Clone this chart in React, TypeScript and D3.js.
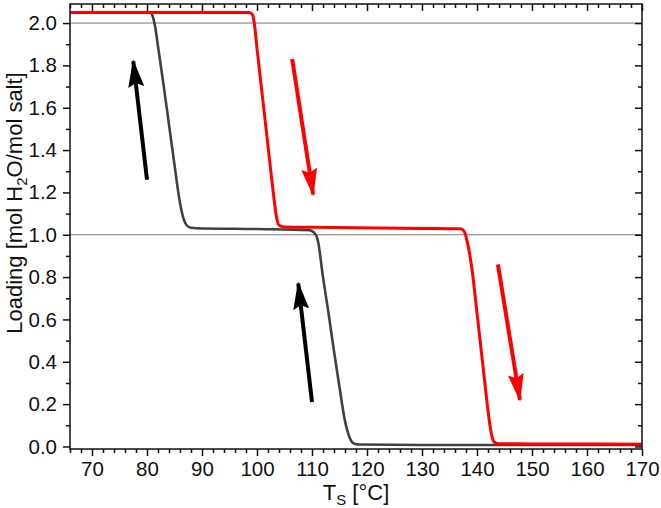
import { FC, useEffect, useRef } from 'react';
import * as d3 from 'd3';

// Hydration branch (grey): loading vs. salt temperature
const hydTemp = [66, 80.5, 81, 81.5, 82, 83, 84, 85, 86, 86.6, 87.2, 88, 89, 100, 109.5, 110.3, 111, 112, 113, 114, 115, 116, 116.8, 117.5, 118.5, 130, 150, 170];
const hydLoad = [2.05, 2.05, 2.035, 1.98, 1.89, 1.71, 1.52, 1.33, 1.15, 1.08, 1.045, 1.033, 1.031, 1.027, 1.022, 1.012, 0.98, 0.8, 0.63, 0.45, 0.28, 0.12, 0.045, 0.016, 0.009, 0.007, 0.007, 0.007];

// Dehydration branch (red)
const dehTemp = [66, 98.6, 99.2, 99.6, 100, 101, 102, 103, 103.5, 104, 105, 110, 130, 137, 137.7, 138.2, 139.1, 140, 141, 142, 142.5, 143, 143.8, 150, 170];
const dehLoad = [2.05, 2.05, 2.04, 1.98, 1.88, 1.65, 1.42, 1.19, 1.09, 1.045, 1.037, 1.035, 1.03, 1.028, 1.015, 0.97, 0.835, 0.63, 0.4, 0.17, 0.075, 0.025, 0.013, 0.012, 0.011];

// Direction arrows [tail T, tail loading, tip T, tip loading]
const blackArrows = [
  [80.0, 1.26, 77.5, 1.82],
  [110.0, 0.21, 107.5, 0.77],
];
const redArrows = [
  [106.4, 1.83, 110.2, 1.19],
  [143.8, 0.86, 147.8, 0.22],
];

const xMajor = [70, 80, 90, 100, 110, 120, 130, 140, 150, 160, 170];
const yMajor = [0.0, 0.2, 0.4, 0.6, 0.8, 1.0, 1.2, 1.4, 1.6, 1.8, 2.0];
const gridLevels = [1.0, 2.0];

const App: FC = () => {
  const chartRef = useRef<SVGSVGElement | null>(null);

  useEffect(() => {
    const width = 661;
    const height = 508;
    const left = 70;
    const right = 642;
    const top = 4;
    const bottom = 449;
    const font = '"Liberation Sans", Arial, sans-serif';

    const svg = d3.select(chartRef.current);
    svg.selectAll('*').remove();
    svg.attr('width', width).attr('height', height);

    const x = d3.scaleLinear().domain([66, 170]).range([left, right]);
    const y = d3.scaleLinear().domain([-0.012, 2.09]).range([bottom, top]);

    const xMinor = d3.range(66, 171, 2).filter((v) => v % 10 !== 0);
    const yMinor = d3.range(1, 21, 2).map((v) => v / 10);

    // Reference lines
    svg
      .append('g')
      .selectAll('line')
      .data(gridLevels)
      .enter()
      .append('line')
      .attr('x1', left)
      .attr('x2', right)
      .attr('y1', (d) => y(d))
      .attr('y2', (d) => y(d))
      .attr('stroke', '#777')
      .attr('stroke-width', 1);

    const line = d3
      .line<[number, number]>()
      .x((d) => x(d[0]))
      .y((d) => y(d[1]))
      .curve(d3.curveMonotoneX);

    svg
      .append('path')
      .attr('d', line(hydTemp.map((t, i) => [t, hydLoad[i]]))!)
      .attr('fill', 'none')
      .attr('stroke', '#404040')
      .attr('stroke-width', 2.6);

    svg
      .append('path')
      .attr('d', line(dehTemp.map((t, i) => [t, dehLoad[i]]))!)
      .attr('fill', 'none')
      .attr('stroke', '#ff0000')
      .attr('stroke-width', 3);

    // Arrow heads
    const defs = svg.append('defs');
    const addHead = (id: string, color: string) => {
      defs
        .append('marker')
        .attr('id', id)
        .attr('markerUnits', 'userSpaceOnUse')
        .attr('viewBox', '0 0 28 16')
        .attr('refX', 26)
        .attr('refY', 8)
        .attr('markerWidth', 28)
        .attr('markerHeight', 16)
        .attr('orient', 'auto')
        .append('path')
        .attr('d', 'M0,0 L28,8 L0,16 L4,8 Z')
        .attr('fill', color);
    };
    addHead('head-black', '#000');
    addHead('head-red', '#ff0000');

    const drawArrows = (data: number[][], color: string, id: string) => {
      svg
        .append('g')
        .selectAll('line')
        .data(data)
        .enter()
        .append('line')
        .attr('x1', (d) => x(d[0]))
        .attr('y1', (d) => y(d[1]))
        .attr('x2', (d) => x(d[2]))
        .attr('y2', (d) => y(d[3]))
        .attr('stroke', color)
        .attr('stroke-width', 4)
        .attr('marker-end', `url(#${id})`);
    };
    drawArrows(blackArrows, '#000', 'head-black');
    drawArrows(redArrows, '#ff0000', 'head-red');

    // Axes
    const styleAxis = (g: d3.Selection<SVGGElement, unknown, null, undefined>) => {
      g.select('.domain').remove();
      g.selectAll('line').attr('stroke', '#111').attr('stroke-width', 1.5);
      g.selectAll('text').attr('font-family', font).attr('font-size', 20.5).attr('fill', '#111');
    };

    svg
      .append('g')
      .attr('transform', `translate(0,${bottom})`)
      .call(d3.axisBottom(x).tickValues(xMajor).tickSize(7).tickPadding(5).tickFormat(d3.format('d')))
      .call(styleAxis);
    svg
      .append('g')
      .attr('transform', `translate(0,${bottom})`)
      .call(d3.axisBottom(x).tickValues(xMinor).tickSize(4).tickFormat(() => ''))
      .call(styleAxis);

    svg
      .append('g')
      .attr('transform', `translate(0,${top})`)
      .call(d3.axisBottom(x).tickValues(xMajor).tickSize(7).tickFormat(() => ''))
      .call(styleAxis);
    svg
      .append('g')
      .attr('transform', `translate(0,${top})`)
      .call(d3.axisBottom(x).tickValues(xMinor).tickSize(4).tickFormat(() => ''))
      .call(styleAxis);

    svg
      .append('g')
      .attr('transform', `translate(${left},0)`)
      .call(d3.axisLeft(y).tickValues(yMajor).tickSize(7).tickPadding(6).tickFormat(d3.format('.1f')))
      .call(styleAxis);
    svg
      .append('g')
      .attr('transform', `translate(${left},0)`)
      .call(d3.axisLeft(y).tickValues(yMinor).tickSize(4).tickFormat(() => ''))
      .call(styleAxis);

    svg
      .append('g')
      .attr('transform', `translate(${right},0)`)
      .call(d3.axisLeft(y).tickValues(yMajor).tickSize(7).tickFormat(() => ''))
      .call(styleAxis);
    svg
      .append('g')
      .attr('transform', `translate(${right},0)`)
      .call(d3.axisLeft(y).tickValues(yMinor).tickSize(4).tickFormat(() => ''))
      .call(styleAxis);

    // Frame
    svg
      .append('rect')
      .attr('x', left)
      .attr('y', top)
      .attr('width', right - left)
      .attr('height', bottom - top)
      .attr('fill', 'none')
      .attr('stroke', '#111')
      .attr('stroke-width', 1.5);

    // Axis titles
    const xTitle = svg
      .append('text')
      .attr('x', (left + right) / 2)
      .attr('y', 500)
      .attr('text-anchor', 'middle')
      .attr('font-family', font)
      .attr('font-size', 22)
      .attr('fill', '#111');
    xTitle.append('tspan').text('T');
    xTitle.append('tspan').attr('font-size', 15).attr('dy', 5).text('S');
    xTitle.append('tspan').attr('dy', -5).text(' [°C]');

    const yTitle = svg
      .append('text')
      .attr('transform', `translate(22,203) rotate(-90)`)
      .attr('text-anchor', 'middle')
      .attr('font-family', font)
      .attr('font-size', 22)
      .attr('fill', '#111');
    yTitle.append('tspan').text('Loading [mol H');
    yTitle.append('tspan').attr('font-size', 15).attr('dy', 5).text('2');
    yTitle.append('tspan').attr('dy', -5).text('O/mol salt]');
  }, []);

  return <svg ref={chartRef} style={{ position: 'absolute', left: 0, top: 0 }}></svg>;
};

export default App;
